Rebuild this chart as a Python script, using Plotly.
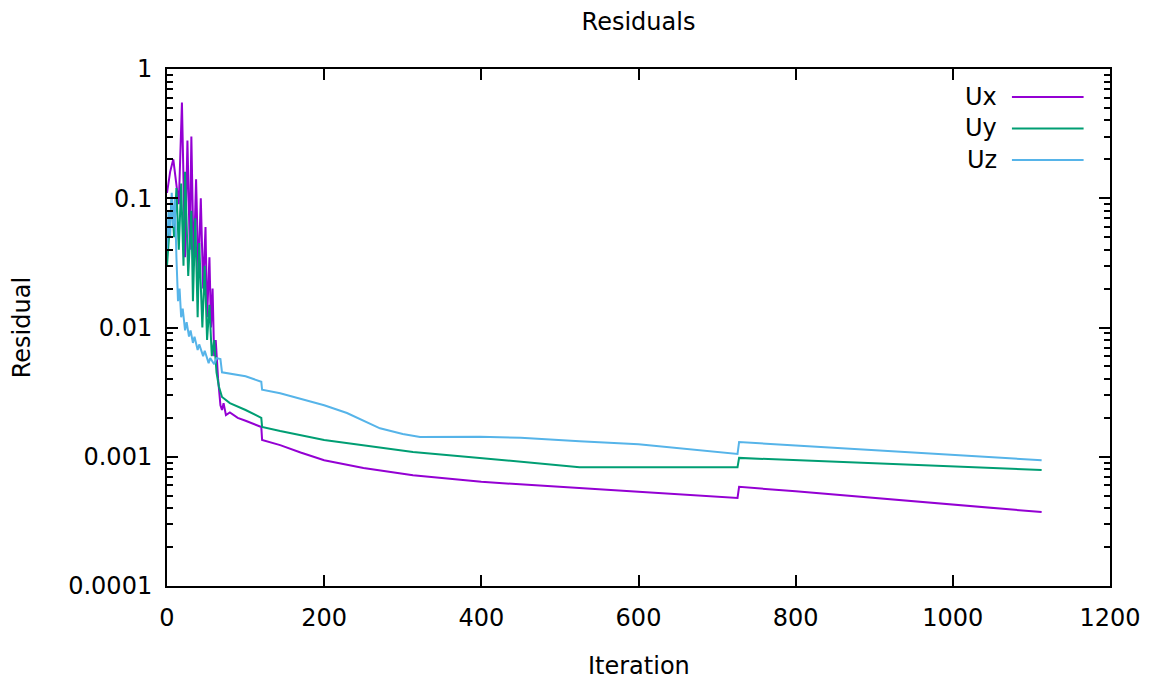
import plotly.graph_objects as go

# Residual history per velocity component (iteration, residual)
iter_ux = [0, 4, 8, 12, 15, 19, 22, 23, 26, 29, 31, 34, 37, 40, 43, 46, 49, 51, 54, 56, 58, 60, 62, 65, 68, 70,
           72, 75, 80, 85, 90, 100, 110, 120, 121, 144, 170, 200, 250, 313, 400, 525, 600, 726, 728, 800, 900,
           1000, 1113]
res_ux = [0.11, 0.16, 0.2, 0.12, 0.09, 0.55, 0.06, 0.035, 0.28, 0.04, 0.3, 0.03, 0.14, 0.025, 0.1, 0.02, 0.06,
          0.012, 0.035, 0.01, 0.02, 0.006, 0.008, 0.004, 0.0025, 0.0023, 0.0026, 0.0021, 0.0022, 0.0021, 0.002,
          0.0019, 0.0018, 0.0017, 0.00135, 0.00123, 0.00108, 0.00094, 0.00082, 0.00072, 0.00064, 0.00057,
          0.000535, 0.00048, 0.000585, 0.00054, 0.00048, 0.000426, 0.000373]

iter_uy = [0, 3, 6, 9, 12, 15, 18, 21, 23, 27, 31, 33, 36, 39, 41, 45, 48, 51, 54, 57, 60, 63, 66, 70, 80, 100,
           120, 121, 144, 200, 271, 313, 398, 525, 600, 726, 728, 800, 900, 1000, 1113]
res_uy = [0.03, 0.06, 0.1, 0.05, 0.12, 0.04, 0.13, 0.03, 0.16, 0.025, 0.08, 0.016, 0.07, 0.012, 0.045, 0.01, 0.03,
          0.008, 0.015, 0.006, 0.008, 0.0045, 0.0035, 0.0029, 0.0026, 0.0023, 0.002, 0.0017, 0.00158, 0.00135,
          0.00119, 0.00109, 0.00098, 0.00083, 0.00083, 0.00083, 0.00098, 0.00094, 0.00089, 0.00084, 0.00079]

iter_uz = [0, 2, 4, 6, 8, 10, 12, 14, 16, 18, 20, 23, 25, 28, 30, 33, 35, 39, 41, 46, 48, 53, 55, 60, 63, 68, 70,
           100, 120, 121, 144, 200, 229, 271, 300, 322, 398, 450, 525, 600, 726, 728, 800, 900, 1000, 1113]
res_uz = [0.04, 0.08, 0.05, 0.11, 0.06, 0.1, 0.035, 0.016, 0.02, 0.012, 0.014, 0.0095, 0.011, 0.0085, 0.0095,
          0.0076, 0.0085, 0.0067, 0.0074, 0.006, 0.0066, 0.0053, 0.0058, 0.0052, 0.0058, 0.0057, 0.0045, 0.0042,
          0.0038, 0.0033, 0.0031, 0.0025, 0.00218, 0.00166, 0.0015, 0.00142, 0.00143, 0.0014, 0.00132, 0.00125,
          0.00105, 0.0013, 0.00122, 0.001125, 0.00103, 0.00094]

series_names = ["Ux", "Uy", "Uz"]
series_colors = ["#9400d3", "#009e73", "#56b4e9"]

y_tick_vals = [0.0001, 0.001, 0.01, 0.1, 1]
y_tick_text = ["0.0001", "0.001", "0.01", "0.1", "1"]
x_tick_vals = [0, 200, 400, 600, 800, 1000, 1200]

FONT = "DejaVu Sans"
FS = 24

fig = go.Figure()
for name, color, xs, ys in zip(series_names, series_colors,
                               [iter_ux, iter_uy, iter_uz], [res_ux, res_uy, res_uz]):
    fig.add_trace(go.Scatter(x=xs, y=ys, mode="lines", name=name,
                             line=dict(color=color, width=2), showlegend=False))

# gnuplot-style key: right-aligned label followed by a line sample
key_top = 0.946
key_step = 0.061
for i, (name, color) in enumerate(zip(series_names, series_colors)):
    ky = key_top - i * key_step
    fig.add_annotation(x=0.882, y=ky, xref="paper", yref="paper", text=name, showarrow=False,
                       xanchor="right", yanchor="middle", font=dict(family=FONT, size=FS, color="black"))
    fig.add_shape(type="line", xref="paper", yref="paper", x0=0.896, x1=0.972, y0=ky, y1=ky,
                  line=dict(color=color, width=2))

fig.add_annotation(x=-0.154, y=0.5, xref="paper", yref="paper", text="Residual", textangle=-90,
                   showarrow=False, xanchor="center", yanchor="middle",
                   font=dict(family=FONT, size=FS, color="black"))
fig.add_annotation(x=0.5, y=-0.155, xref="paper", yref="paper", text="Iteration",
                   showarrow=False, xanchor="center", yanchor="middle",
                   font=dict(family=FONT, size=FS, color="black"))

fig.update_layout(
    width=1153, height=680,
    margin=dict(l=167, r=43, t=69, b=94),
    paper_bgcolor="white", plot_bgcolor="white",
    font=dict(family=FONT, size=FS, color="black"),
    title=dict(text="Residuals", x=0.5, xref="paper", xanchor="center",
               y=1 - 22 / 680, yref="container", yanchor="middle",
               font=dict(family=FONT, size=FS, color="black")),
    xaxis=dict(range=[0, 1200], tickvals=x_tick_vals, ticks="inside", ticklen=11, tickwidth=1.5,
               tickcolor="black", showline=True, linecolor="black", linewidth=2, mirror="allticks",
               showgrid=False, zeroline=False, ticklabelstandoff=9),
    yaxis=dict(type="log", range=[-4, 0], tickvals=y_tick_vals, ticktext=y_tick_text,
               ticks="inside", ticklen=11, tickwidth=1.5, tickcolor="black",
               showline=True, linecolor="black", linewidth=2, mirror="allticks",
               showgrid=False, zeroline=False, ticklabelstandoff=8,
               minor=dict(ticks="inside", ticklen=6, tickwidth=1.5, tickcolor="black",
                          dtick="D1", showgrid=False)),
)

fig.write_html("out.html")
